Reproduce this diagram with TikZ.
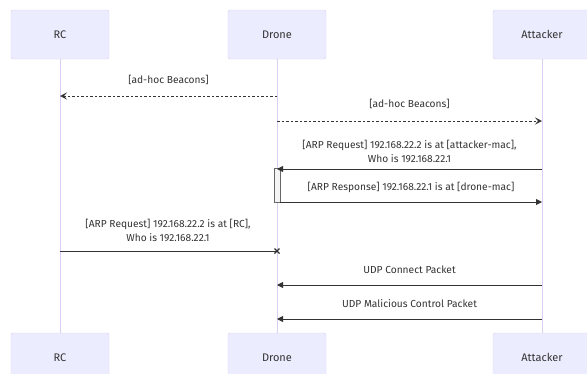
\documentclass[tikz,border=0pt]{standalone}
\usepackage{fontspec}
\setmainfont{Fira Sans}
\usetikzlibrary{arrows.meta, positioning, calc}
\definecolor{actorfill}{RGB}{236,236,255}
\definecolor{actorline}{RGB}{218,206,243}
\definecolor{signalgray}{RGB}{51,51,51}
\definecolor{activefill}{RGB}{244,244,244}
\definecolor{activeline}{RGB}{102,102,102}
\tikzstyle{actor} = [draw=actorline, fill=actorfill, rounded corners=2pt, minimum width=98pt, minimum height=49pt, text=signalgray, font=\fontsize{11}{13}\selectfont]
\tikzstyle{lifeline} = [actorline, line width=0.8pt]
\tikzstyle{activation} = [draw=activeline, fill=activefill, minimum width=6pt, minimum height=34pt, inner sep=0pt]
\tikzstyle{msg} = [signalgray, line width=0.9pt]
\tikzstyle{sync} = [msg, -{Triangle[length=6pt,width=6pt]}]
\tikzstyle{async} = [msg, dash pattern=on 2.5pt off 2pt, -{Stealth[length=7pt,width=7pt,inset=3pt,open]}]
\tikzstyle{msgtext} = [text=signalgray, align=center, inner sep=0pt, font=\fontsize{10.2}{14}\selectfont]

\begin{document}
\begin{tikzpicture}[x=1pt, y=-1pt]
\useasboundingbox (0,0) rectangle (587,373);
% Actors and lifelines
\foreach \name/\x/\txt in {rc/60/RC, drone/277/Drone, att/542/Attacker} {
    \node[actor] (\name Top) at (\x,34.5) {\txt};
    \node[actor] (\name Bot) at (\x,357.5) {\txt};
    \draw[lifeline] (\name Top) -- (\name Bot);
}

% Activation on the drone
\node[activation] (droneAct) at (277,185) {};

% Beacons
\coordinate (rcBeacon) at (60,96);
\coordinate (droneBeaconA) at (277,96);
\draw[async] (droneBeaconA) -- (rcBeacon);
\node[msgtext] (beaconText1) at (168.5,80) {[ad-hoc Beacons]};

\coordinate (droneBeaconB) at (277,121);
\coordinate (attBeacon) at (542,121);
\draw[async] (droneBeaconB) -- (attBeacon);
\node[msgtext] (beaconText2) at (409.5,104) {[ad-hoc Beacons]};

% Spoofed ARP from the attacker
\coordinate (attArp) at (542,169);
\coordinate (droneArp) at (277,169);
\draw[sync] (attArp) -- (droneArp);
\node[msgtext] (arpText1) at (409.5,151) {[ARP Request] 192.168.22.2 is at [attacker-mac],\\Who is 192.168.22.1};

\coordinate (attResp) at (542,202);
\draw[sync] (droneAct.east |- attResp) -- (attResp);
\node[msgtext] (respText) at (411,187) {[ARP Response] 192.168.22.1 is at [drone-mac]};

% Lost ARP request from the RC
\coordinate (rcArp) at (60,251);
\coordinate (droneLost) at (277,251);
\draw[msg] (rcArp) -- (droneLost);
\draw[msg, line width=1.1pt] ($(droneLost)+(-2.5,-2.5)$) -- ++(5,5) ($(droneLost)+(-2.5,2.5)$) -- ++(5,-5);
\node[msgtext] (arpText2) at (168,230) {[ARP Request] 192.168.22.2 is at [RC],\\Who is 192.168.22.1};

% UDP packets
\coordinate (attUdp1) at (542,285);
\coordinate (droneUdp1) at (277,285);
\draw[sync] (attUdp1) -- (droneUdp1);
\node[msgtext] (udpText1) at (409.5,270) {UDP Connect Packet};

\coordinate (attUdp2) at (542,319);
\coordinate (droneUdp2) at (277,319);
\draw[sync] (attUdp2) -- (droneUdp2);
\node[msgtext] (udpText2) at (409.5,304) {UDP Malicious Control Packet};
\end{tikzpicture}
\end{document}
